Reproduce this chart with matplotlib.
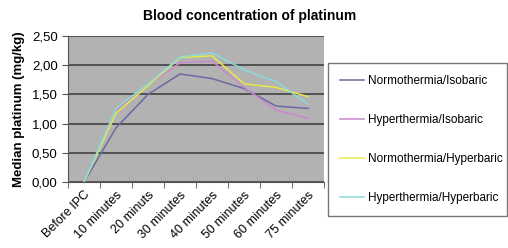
import numpy as np
import matplotlib.pyplot as plt
from matplotlib.ticker import FuncFormatter

plt.rcParams['font.family'] = ['Liberation Sans', 'DejaVu Sans']

# time points and median platinum values (mg/kg)
times = ['Before IPC', '10 minutes', '20 minuts', '30 minutes',
         '40 minutes', '50 minutes', '60 minutes', '75 minutes']
normo_iso = [0.00, 0.93, 1.50, 1.85, 1.77, 1.60, 1.30, 1.26]
hyper_iso = [0.00, 1.23, 1.66, 2.04, 2.07, 1.62, 1.23, 1.09]
normo_hyper = [0.00, 1.18, 1.65, 2.13, 2.16, 1.68, 1.62, 1.46]
hyper_hyper = [0.00, 1.26, 1.68, 2.14, 2.21, 1.92, 1.72, 1.33]

labels = ['Normothermia/Isobaric', 'Hyperthermia/Isobaric',
          'Normothermia/Hyperbaric', 'Hyperthermia/Hyperbaric']
colors = ['#6a6aa4', '#cc88cc', '#e8e84a', '#8adada']

fig = plt.figure(figsize=(5.08, 2.48), dpi=100)
ax = fig.add_axes([0.134, 0.266, 0.504, 0.589])
ax.set_facecolor('#b2b2b2')

x = np.arange(len(times))
for vals, lab, c in zip([normo_iso, hyper_iso, normo_hyper, hyper_hyper], labels, colors):
    ax.plot(x, vals, color=c, lw=1.1, label=lab)

ax.set_xlim(-0.5, len(times) - 0.5)
ax.set_ylim(0, 2.5)
ax.set_yticks(np.arange(0, 2.51, 0.5))
ax.yaxis.set_major_formatter(FuncFormatter(lambda v, p: ('%.2f' % v).replace('.', ',')))
ax.yaxis.grid(True, color='#4a4a4a', lw=1.3)
ax.set_axisbelow(True)

# category labels at the centres, tick marks between categories
ax.set_xticks(x)
ax.set_xticklabels(times, rotation=45, ha='right', rotation_mode='anchor', fontsize=9)
ax.set_xticks(np.arange(-0.5, len(times), 1.0), minor=True)
ax.tick_params(axis='x', which='major', length=0, pad=5)
ax.tick_params(axis='x', which='minor', length=4, color='#555555')
ax.tick_params(axis='y', length=4, color='#555555', labelsize=9.5)

for s in ['top', 'right']:
    ax.spines[s].set_visible(False)
for s in ['left', 'bottom']:
    ax.spines[s].set_color('#555555')

ax.set_ylabel('Median platinum (mg/kg)', fontsize=9.5, fontweight='bold', labelpad=5)
fig.text(0.492, 0.935, 'Blood concentration of platinum', ha='center', va='center',
         fontsize=10, fontweight='bold')

leg = ax.legend(loc='upper left', bbox_to_anchor=(0.646, 0.129, 0.352, 0.617),
                bbox_transform=fig.transFigure, mode='expand', frameon=True,
                fancybox=False, edgecolor='#555555', fontsize=8.5,
                labelspacing=2.3, handlelength=2.0, handletextpad=0.4,
                borderpad=1.0, borderaxespad=0)
leg.get_frame().set_linewidth(1.0)

fig.savefig('out.png', dpi=100)
